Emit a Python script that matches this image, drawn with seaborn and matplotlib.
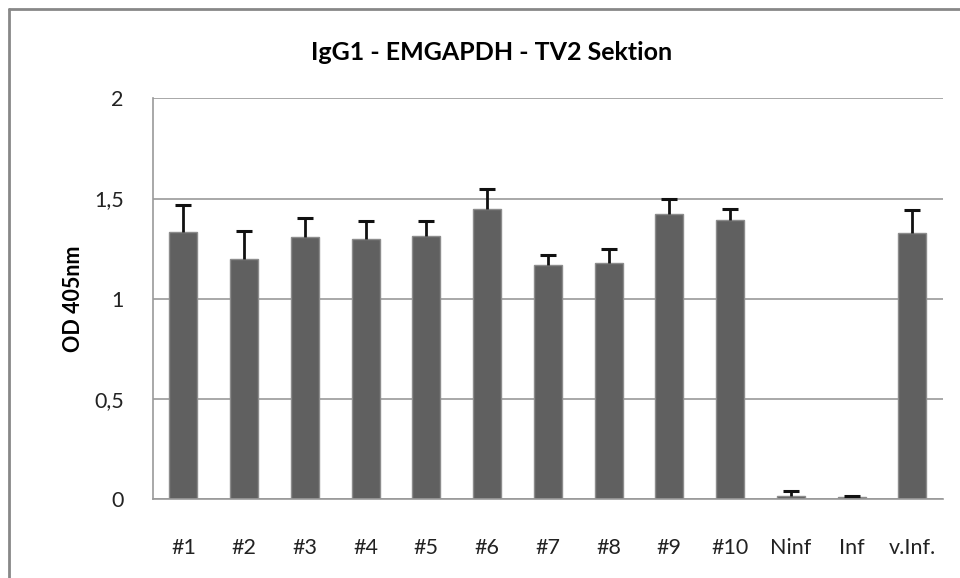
import matplotlib
matplotlib.use("Agg")
import matplotlib.pyplot as plt
import seaborn as sns
import pandas as pd
import numpy as np
from matplotlib.lines import Line2D

categories = ["#1", "#2", "#3", "#4", "#5", "#6", "#7", "#8", "#9", "#10", "Ninf", "Inf", "v.Inf."]
values = [1.335, 1.20, 1.31, 1.30, 1.315, 1.45, 1.17, 1.18, 1.425, 1.395, 0.018, 0.010, 1.33]
err_upper = [0.135, 0.14, 0.095, 0.09, 0.075, 0.10, 0.05, 0.07, 0.075, 0.055, 0.022, 0.007, 0.115]
yticks = [0, 0.5, 1, 1.5, 2]
ytick_labels = ["0", "0,5", "1", "1,5", "2"]

sns.set_theme(style="white")
plt.rcParams["font.family"] = ["Lato", "DejaVu Sans"]

df = pd.DataFrame({"cat": categories, "val": values})

fig = plt.figure(figsize=(9.6, 5.78), dpi=100)
ax = fig.add_axes([153/960, 1-499.3/578, (942.7-153)/960, (499.3-98.3)/578])

sns.barplot(data=df, x="cat", y="val", ax=ax, color="#606060", width=0.46,
            edgecolor="#8c8c8c", linewidth=1, saturation=1, zorder=2)
x = np.arange(len(categories))
eb = ax.errorbar(x, values, yerr=[np.zeros(len(values)), err_upper], fmt="none",
                 ecolor="#111111", elinewidth=2, capsize=6, capthick=2.2, zorder=3)
# show only the upper caps
eb[1][0].set_visible(False)

ax.set_ylim(0, 2)
ax.set_xlim(-0.5, len(categories) - 0.5)
ax.set_yticks(yticks)
ax.set_yticklabels(ytick_labels, fontsize=15.5, color="#222222")
ax.set_xticks(x)
ax.set_xticklabels(categories, fontsize=15.5, color="#222222")
ax.set_xticks(np.arange(-0.5, len(categories)), minor=True)
ax.tick_params(axis="x", which="major", length=0, pad=28)
ax.tick_params(axis="x", which="minor", length=8, width=1.2, color="#999999", direction="out")
ax.tick_params(axis="y", which="major", length=7, width=1.2, color="#999999", direction="out", pad=14)
ax.grid(axis="y", color="#999999", linewidth=1.2, zorder=0)
ax.set_axisbelow(True)
for s in ["top", "right"]:
    ax.spines[s].set_visible(False)
for s in ["left", "bottom"]:
    ax.spines[s].set_color("#999999")
    ax.spines[s].set_linewidth(1.2)
ax.set_xlabel("")
ax.set_ylabel("OD 405nm", fontsize=15.5, fontweight="bold", color="black", labelpad=7)

fig.text(492/960, 1-52/578, "IgG1 - EMGAPDH - TV2 Sektion", ha="center", va="center",
         fontsize=18, fontweight="bold", color="black")

# outer chart border (left and top edges visible)
fig.add_artist(Line2D([9/960, 9/960], [0, 1-9/578], transform=fig.transFigure, color="#888888", linewidth=2))
fig.add_artist(Line2D([9/960, 1], [1-9/578, 1-9/578], transform=fig.transFigure, color="#888888", linewidth=2))

fig.savefig("out.png", dpi=100)
